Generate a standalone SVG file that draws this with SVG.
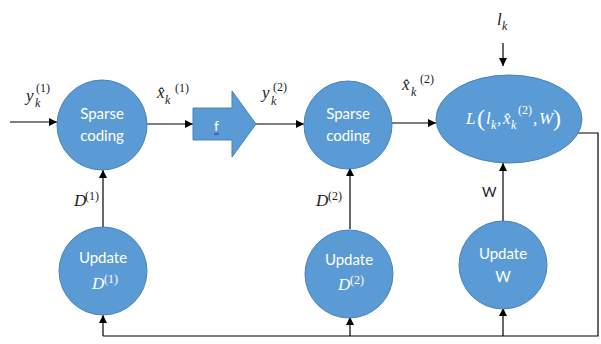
<svg xmlns="http://www.w3.org/2000/svg" width="601" height="344" viewBox="0 0 601 344">
  <defs>
    <marker id="arrow" viewBox="0 0 10 10" refX="10" refY="5" markerWidth="8" markerHeight="8" markerUnits="userSpaceOnUse" orient="auto">
      <path d="M0,0 L10,5 L0,10 z" fill="#000"/>
    </marker>
    <style>
      .node { fill: #5B9BD5; stroke: #4A82B8; stroke-width: 1; }
      .label { font-family: "Lato", "Open Sans", sans-serif; font-size: 15px; fill: #fff; text-anchor: middle; }
      .math { font-family: "Liberation Serif", serif; font-style: italic; fill: #222; }
      .mathw { font-family: "Liberation Serif", serif; font-style: italic; fill: #fff; }
      .up { font-style: normal; }
      .wire { fill: none; stroke: #000; stroke-width: 1.2; }
      .arr { fill: none; stroke: #000; stroke-width: 1.2; marker-end: url(#arrow); }
    </style>
  </defs>
  <rect width="601" height="344" fill="#fff"/>

  <!-- connectors -->
  <g id="connectors">
    <line class="arr" x1="10" y1="122" x2="57" y2="122"/>
    <line class="arr" x1="147" y1="124" x2="193" y2="124"/>
    <line class="arr" x1="256" y1="124" x2="304" y2="124"/>
    <line class="arr" x1="392" y1="123" x2="436" y2="123"/>
    <line class="arr" x1="503" y1="43" x2="503" y2="66"/>
    <line class="arr" x1="103" y1="227" x2="103" y2="170"/>
    <line class="arr" x1="350" y1="229" x2="350" y2="168"/>
    <line class="arr" x1="503" y1="222" x2="503" y2="163"/>
    <polyline class="wire" points="576,133 598,133 598,336 103,336"/>
    <line class="arr" x1="103" y1="336" x2="103" y2="315"/>
    <line class="arr" x1="350" y1="336" x2="350" y2="317"/>
    <line class="arr" x1="503" y1="336" x2="503" y2="308"/>
  </g>

  <!-- edge labels -->
  <g id="edge-labels" font-size="17">
    <text class="math" x="26" y="101">y<tspan font-size="12" x="35" y="107">k</tspan><tspan class="up" font-size="12" x="36" y="92">(1)</tspan></text>
    <text class="math" x="157" y="98">x&#770;<tspan font-size="12" x="165" y="104">k</tspan><tspan class="up" font-size="12" x="175" y="92">(1)</tspan></text>
    <text class="math" x="262" y="98">y<tspan font-size="12" x="271" y="105">k</tspan><tspan class="up" font-size="12" x="273" y="91">(2)</tspan></text>
    <text class="math" x="402" y="90">x&#770;<tspan font-size="12" x="411" y="96">k</tspan><tspan class="up" font-size="12" x="420" y="83">(2)</tspan></text>
    <text class="math" x="497" y="25">l<tspan font-size="12" x="502" y="30">k</tspan></text>
    <text class="math" x="74" y="206">D<tspan class="up" font-size="12" x="85" y="200">(1)</tspan></text>
    <text class="math" x="316" y="206">D<tspan class="up" font-size="12" x="328" y="200">(2)</tspan></text>
    <text x="482" y="197" font-family="Lato, 'Open Sans', sans-serif" font-size="14" fill="#222">W</text>
  </g>

  <g id="sparse1">
    <circle class="node" cx="102" cy="125" r="45"/>
    <text class="label" x="102" y="119">Sparse</text>
    <text class="label" x="102" y="141">coding</text>
  </g>

  <g id="f-block">
    <path class="node" d="M193,108 L232,108 L232,91 L256,124 L232,157 L232,140 L193,140 z"/>
    <text x="214" y="131" font-family="Lato, sans-serif" font-size="14" fill="#fff">f</text>
    <line x1="214" y1="134" x2="219" y2="134" stroke="#2B3FD6" stroke-width="1.2"/>
  </g>

  <g id="sparse2">
    <circle class="node" cx="348" cy="125" r="44"/>
    <text class="label" x="348" y="119">Sparse</text>
    <text class="label" x="348" y="141">coding</text>
  </g>

  <g id="loss">
    <ellipse class="node" cx="509" cy="119" rx="73" ry="44"/>
    <text class="mathw" font-size="17" y="124">
      <tspan x="466">L</tspan><tspan class="up" x="477" y="126" font-size="24">(</tspan><tspan x="486" y="124">l</tspan><tspan font-size="12" x="491" y="129">k</tspan><tspan x="497" y="124">,</tspan><tspan x="503" y="124">x&#770;</tspan><tspan font-size="12" x="511" y="129">k</tspan><tspan class="up" font-size="12" x="518" y="114">(2)</tspan><tspan x="533" y="124">,</tspan><tspan x="539" y="124">W</tspan><tspan class="up" x="553" y="126" font-size="24">)</tspan>
    </text>
  </g>

  <g id="update-d1">
    <circle class="node" cx="103" cy="271" r="44"/>
    <text class="label" x="103" y="263">Update</text>
    <text class="mathw" x="92" y="289" font-size="17">D<tspan class="up" font-size="12" x="104" y="283">(1)</tspan></text>
  </g>

  <g id="update-d2">
    <circle class="node" cx="349" cy="274" r="44"/>
    <text class="label" x="349" y="265">Update</text>
    <text class="mathw" x="338" y="290" font-size="17">D<tspan class="up" font-size="12" x="350" y="284">(2)</tspan></text>
  </g>

  <g id="update-w">
    <circle class="node" cx="503" cy="265" r="44"/>
    <text class="label" x="503" y="259">Update</text>
    <text class="label" x="503" y="282">W</text>
  </g>
</svg>
